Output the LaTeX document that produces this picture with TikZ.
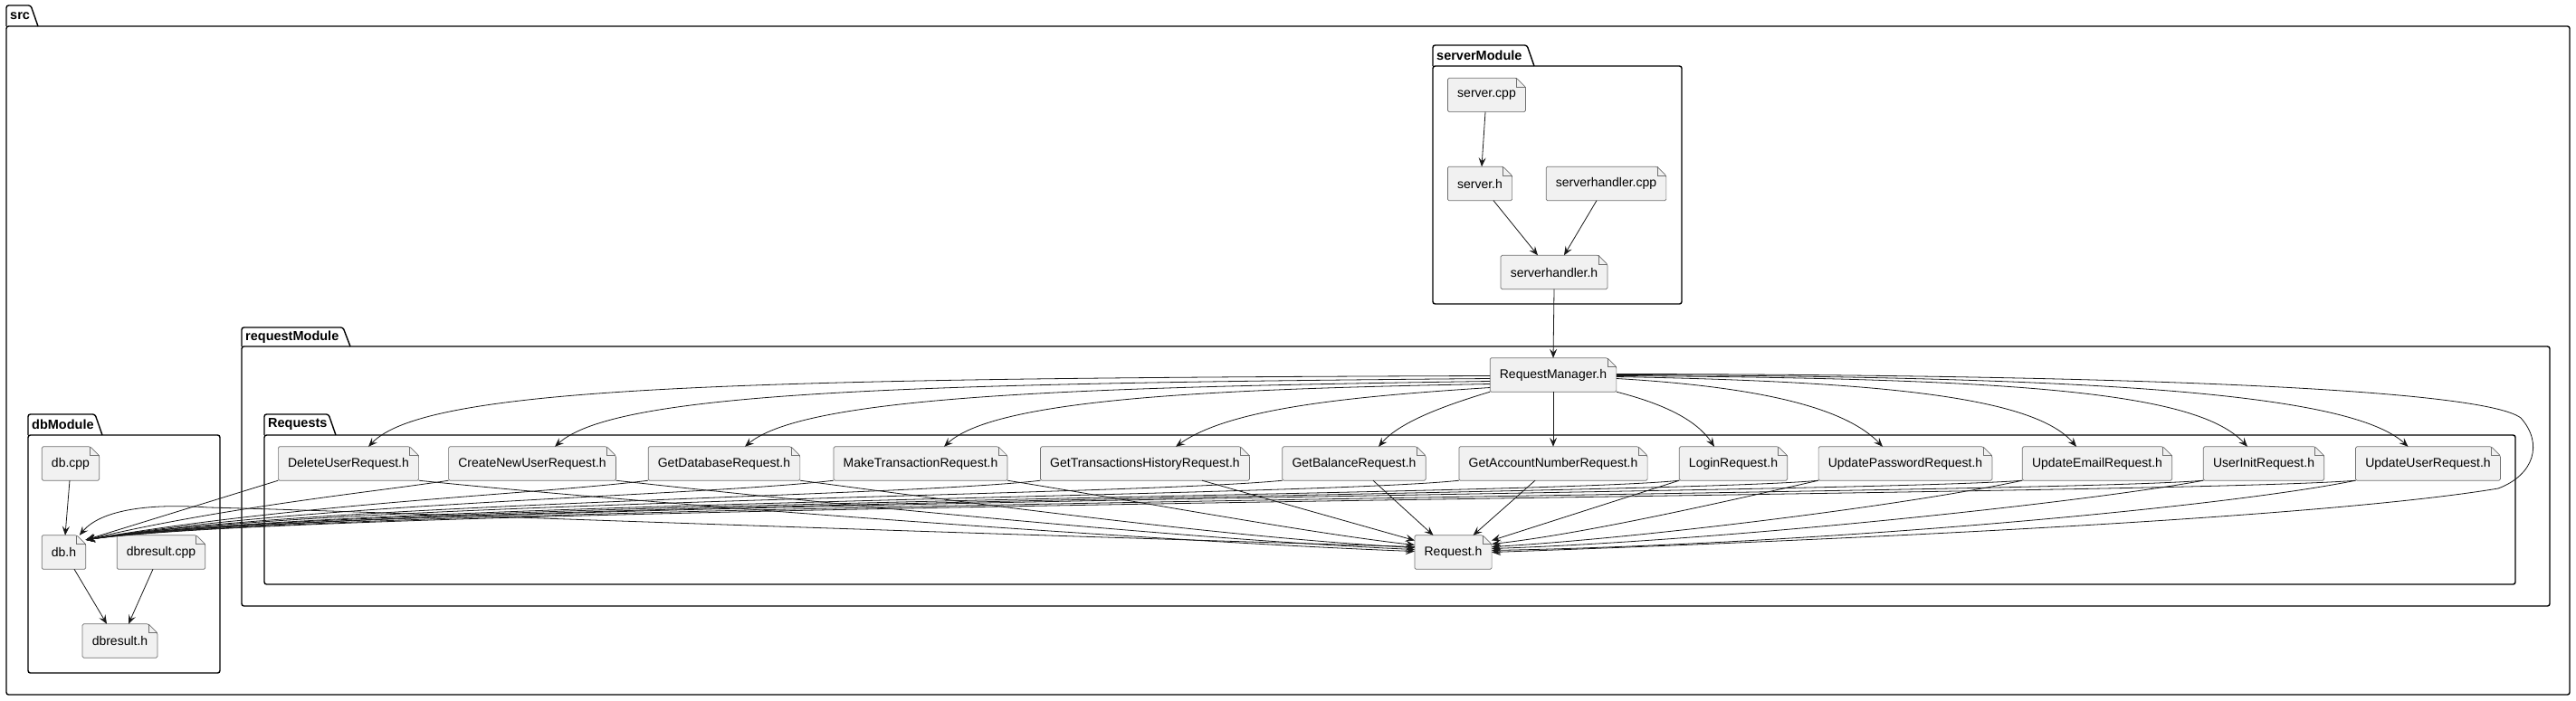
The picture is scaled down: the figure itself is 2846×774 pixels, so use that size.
\documentclass[tikz,border=0pt]{standalone}
\usepackage{fontspec}
\setmainfont{Liberation Sans}
\usetikzlibrary{arrows.meta}
\definecolor{filebg}{HTML}{F1F1F1}
\definecolor{fileline}{HTML}{707070}
\definecolor{edgecol}{HTML}{181818}
\pgfdeclarelayer{bg}
\pgfsetlayers{bg,main}
\newcommand\mkfile[1]{%
  \draw[fileborder,fill=filebg,rounded corners=1.5pt] (#1.north west) -- ([xshift=-10pt]#1.north east) -- ([yshift=-10pt]#1.north east) -- (#1.south east) -- (#1.south west) -- cycle;
  \draw[fileborder] ([xshift=-10pt]#1.north east) -- ([xshift=-10pt,yshift=-10pt]#1.north east) -- ([yshift=-10pt]#1.north east);
}
\newcommand\mkpkg[6]{%
  \draw[pkgline] (#1,#4) rectangle (#5,#6);
  \draw[pkgline] (#1,#4) -- (#1,#2) -- ({#3-8},#2) -- (#3,#4);
}
\begin{document}
\begin{tikzpicture}[x=1pt,y=-1pt,
  file/.style={font=\fontsize{14}{16}\selectfont, minimum height=37pt, inner xsep=10.5pt, inner ysep=0pt, text=black},
  fileborder/.style={draw=fileline, line width=0.7pt},
  pkgline/.style={line width=1.4pt, draw=black, rounded corners=2.5pt},
  pkgtitle/.style={font=\fontsize{14.5}{17}\selectfont\bfseries, anchor=west, inner sep=0pt},
  dep/.style={draw=edgecol, line width=0.8pt, -{Stealth[length=10pt,width=8pt,inset=4pt]}},
]
\useasboundingbox (0,0) rectangle (2846,774);

% ---------- nodes ----------
\node[file] (scpp)  at (1642.5,105) {server.cpp};
\node[file] (sh)    at (1635,203)   {server.h};
\node[file] (shcpp) at (1774.5,203) {serverhandler.cpp};
\node[file] (shh)   at (1717,301)   {serverhandler.h};
\node[file] (rm)    at (1716,414.5) {RequestManager.h};

\node[file] (del)   at (385,512.5)  {DeleteUserRequest.h};
\node[file] (cnu)   at (588,512.5)  {CreateNewUserRequest.h};
\node[file] (gdb)   at (800,512.5)  {GetDatabaseRequest.h};
\node[file] (mtr)   at (1017,512.5) {MakeTransactionRequest.h};
\node[file] (gth)   at (1265,512.5) {GetTransactionsHistoryRequest.h};
\node[file] (gbal)  at (1496,512.5) {GetBalanceRequest.h};
\node[file] (gacc)  at (1716,512.5) {GetAccountNumberRequest.h};
\node[file] (login) at (1915,512.5) {LoginRequest.h};
\node[file] (upw)   at (2105,512.5) {UpdatePasswordRequest.h};
\node[file] (uem)   at (2317,512.5) {UpdateEmailRequest.h};
\node[file] (uinit) at (2501,512.5) {UserInitRequest.h};
\node[file] (uusr)  at (2682.5,512.5) {UpdateUserRequest.h};
\node[file] (req)   at (1605.5,610.5) {Request.h};

\node[file] (dbcpp)  at (78,512.5)   {db.cpp};
\node[file] (dbh)    at (70.5,610.5) {db.h};
\node[file] (dbrcpp) at (178,610.5)  {dbresult.cpp};
\node[file] (dbrh)   at (132.5,708.5) {dbresult.h};

% ---------- packages and file shapes ----------
\begin{pgfonlayer}{bg}
  \mkpkg{7}{6}{42}{29}{2839}{768}
  \mkpkg{1583}{50}{1695}{73}{1858}{336}
  \mkpkg{267}{362}{387}{383}{2817}{670}
  \mkpkg{292}{458}{371}{481}{2779}{646}
  \mkpkg{31}{458}{113}{481}{243}{744}
  \foreach \n in {scpp,sh,shcpp,shh,rm,del,cnu,gdb,mtr,gth,gbal,gacc,login,upw,uem,uinit,uusr,req,dbcpp,dbh,dbrcpp,dbrh}{\mkfile{\n}}
\end{pgfonlayer}
\node[pkgtitle] (tsrc) at (11,17.5) {src};
\node[pkgtitle] (tsrv) at (1587,61.5) {serverModule};
\node[pkgtitle] (treq) at (271,372.5) {requestModule};
\node[pkgtitle] (trqs) at (296,469.5) {Requests};
\node[pkgtitle] (tdb)  at (35,469.5) {dbModule};

% ---------- serverModule edges ----------
\draw[dep] ([xshift=-1.5pt]scpp.south) -- ([xshift=2pt]sh.north);
\draw[dep] ([xshift=15pt]sh.south) -- ([xshift=-18pt]shh.north);
\draw[dep] ([xshift=-10.5pt]shcpp.south) -- ([xshift=11pt]shh.north);
\draw[dep] (shh.south) -- (rm.north);

% ---------- RequestManager -> headers ----------
\draw[dep] ([yshift=-1pt]rm.west) .. controls (800,418) and (470,428) .. ([xshift=22pt]del.north);
\draw[dep] ([yshift=-4pt]rm.west) .. controls (1000,424) and (680,433) .. ([xshift=25pt]cnu.north);
\draw[dep] ([yshift=-7pt]rm.west) .. controls (1200,428) and (890,437) .. ([xshift=23pt]gdb.north);
\draw[dep] ([yshift=-10pt]rm.west) .. controls (1350,430) and (1100,440) .. ([xshift=26pt]mtr.north);
\draw[dep] ([yshift=-14pt]rm.west) .. controls (1500,438) and (1360,450) .. ([xshift=34pt]gth.north);
\draw[dep] (rm.south west) .. controls (1590,450) and (1545,468) .. ([xshift=27pt]gbal.north);
\draw[dep] (rm.south) -- (gacc.north);
\draw[dep] (rm.south east) .. controls (1840,447) and (1875,465) .. ([xshift=-21pt]login.north);
\draw[dep] ([yshift=-4pt]rm.east) .. controls (1950,428) and (2040,452) .. ([xshift=-25pt]upw.north);
\draw[dep] ([yshift=-2pt]rm.east) .. controls (2100,422) and (2250,442) .. ([xshift=-23pt]uem.north);
\draw[dep] ([yshift=-1pt]rm.east) .. controls (2250,418) and (2430,436) .. ([xshift=-18pt]uinit.north);
\draw[dep] (rm.east) .. controls (2350,416) and (2600,438) .. ([xshift=-22pt]uusr.north);
% loop RequestManager -> Request.h
\draw[dep] ([yshift=1pt]rm.east) .. controls (2300,414) and (2740,428) .. (2785,462)
  .. controls (2810,490) and (2800,525) .. (2760,540)
  .. controls (2550,575) and (1950,600) .. (req.east);

% ---------- headers -> Request.h ----------
\draw[dep] (del.south east) .. controls (700,556) and (1300,600) .. ([yshift=1pt]req.west);
\draw[dep] (cnu.south east) .. controls (850,550) and (1300,596) .. ([yshift=3pt]req.west);
\draw[dep] (gdb.south east) .. controls (1050,553) and (1350,594) .. ([yshift=5pt]req.west);
\draw[dep] (mtr.south east) .. controls (1250,553) and (1450,590) .. ([yshift=8pt]req.west);
\draw[dep] ([xshift=63pt]gth.south) -- ([yshift=13pt]req.west);
\draw[dep] ([xshift=21pt]gbal.south) -- ([xshift=-22pt]req.north);
\draw[dep] ([xshift=-20pt]gacc.south) -- ([xshift=22pt]req.north);
\draw[dep] (login.south west) -- ([yshift=13pt]req.east);
\draw[dep] (upw.south west) .. controls (1900,556) and (1750,590) .. ([yshift=9pt]req.east);
\draw[dep] (uem.south west) .. controls (2100,560) and (1800,596) .. ([yshift=6pt]req.east);
\draw[dep] (uinit.south west) .. controls (2300,556) and (1900,598) .. ([yshift=4pt]req.east);
\draw[dep] (uusr.south west) .. controls (2450,562) and (2000,602) .. ([yshift=2pt]req.east);

% ---------- headers -> db.h ----------
\draw[dep] (del.south west) -- ([yshift=-5pt]dbh.north east);
\draw[dep] (cnu.south west) .. controls (420,543) and (250,560) .. ([yshift=-5pt]dbh.north east);
\draw[dep] (gdb.south west) .. controls (600,546) and (330,556) .. ([yshift=-5pt]dbh.north east);
\draw[dep] (mtr.south west) .. controls (780,548) and (340,556) .. ([yshift=-5pt]dbh.north east);
\draw[dep] (gth.south west) .. controls (1000,549) and (350,556) .. ([yshift=-5pt]dbh.north east);
\draw[dep] (gbal.south west) .. controls (1250,548) and (350,555) .. ([yshift=-5pt]dbh.north east);
\draw[dep] (gacc.south west) .. controls (1450,549) and (360,556) .. ([yshift=-5pt]dbh.north east);
\draw[dep] (login.south west) .. controls (1700,548) and (360,555) .. ([yshift=-5pt]dbh.north east);
\draw[dep] (upw.south west) .. controls (1850,547) and (370,556) .. ([yshift=-5pt]dbh.north east);
\draw[dep] (uem.south west) .. controls (2050,546) and (370,555) .. ([yshift=-5pt]dbh.north east);
\draw[dep] (uinit.south west) .. controls (2250,547) and (380,556) .. ([yshift=-5pt]dbh.north east);
\draw[dep] (uusr.south west) .. controls (2400,548) and (380,557) .. ([yshift=-5pt]dbh.north east);
% Request.h -> db.h
\draw[dep] ([yshift=6pt]req.west) .. controls (900,585) and (400,565) .. (230,561)
  .. controls (160,556) and (110,565) .. ([xshift=-7pt]dbh.north east);

% ---------- dbModule edges ----------
\draw[dep] ([xshift=-1pt]dbcpp.south) -- ([xshift=1.5pt]dbh.north);
\draw[dep] ([xshift=11.5pt]dbh.south) -- ([xshift=-14.5pt]dbrh.north);
\draw[dep] ([xshift=-9pt]dbrcpp.south) -- ([xshift=9.5pt]dbrh.north);
\end{tikzpicture}
\end{document}
